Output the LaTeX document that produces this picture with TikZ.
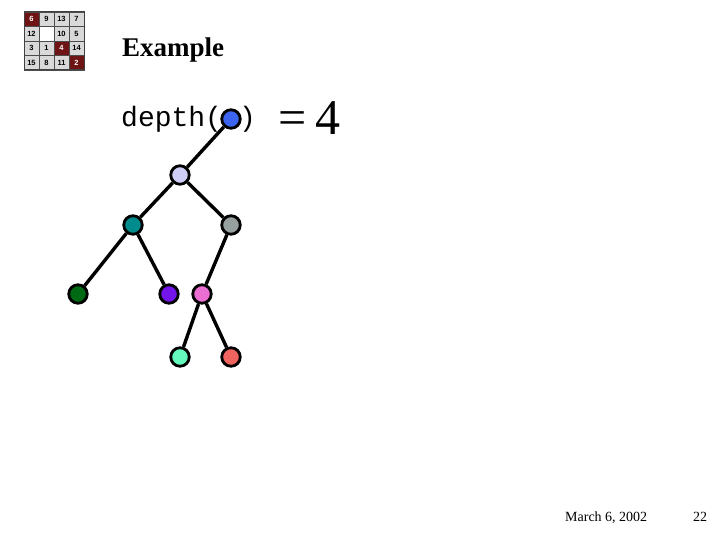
\documentclass[tikz,border=0pt]{standalone}
\usepackage{fontspec}
\setmainfont{Liberation Serif}
\newfontfamily\cour{Liberation Mono}
\newfontfamily\arl{Liberation Sans}
\definecolor{cblue}{RGB}{60,100,240}
\definecolor{clav}{RGB}{205,205,245}
\definecolor{cteal}{RGB}{0,140,140}
\definecolor{cgray}{RGB}{150,160,158}
\definecolor{cgreen}{RGB}{0,105,20}
\definecolor{cpurp}{RGB}{115,20,235}
\definecolor{cpink}{RGB}{235,110,210}
\definecolor{cmint}{RGB}{100,250,190}
\definecolor{csalm}{RGB}{240,100,95}
\definecolor{cdred}{RGB}{110,20,20}
\begin{document}
\begin{tikzpicture}[x=1pt,y=-1pt,
  tn/.style={circle,draw=black,line width=2.8pt,minimum size=18.5pt,inner sep=0pt},
  ed/.style={line width=3.4pt},
  cellg/.style={fill=gray!30,draw=gray!60!black,line width=0.6pt},
  cellr/.style={fill=cdred,draw=gray!60!black,line width=0.6pt},
  cellw/.style={fill=white,draw=gray!60!black,line width=0.6pt},
  ctx/.style={font=\fontsize{7.5}{7.5}\arl\bfseries,inner sep=0pt}]
\useasboundingbox (0,0) rectangle (720,540);
% logo
\foreach \r/\c/\n/\s in {0/0/6/r,0/1/9/g,0/2/13/g,0/3/7/g,
  1/0/12/g,1/1/{}/w,1/2/10/g,1/3/5/g,
  2/0/3/g,2/1/1/g,2/2/4/r,2/3/14/g,
  3/0/15/g,3/1/8/g,3/2/11/g,3/3/2/r}{
  \if\s r\def\st{cellr}\def\tc{white}\else\if\s w\def\st{cellw}\def\tc{black}\else\def\st{cellg}\def\tc{black}\fi\fi
  \path[\st] ({24+15*\c},{12+14.5*\r}) rectangle ({39+15*\c},{26.5+14.5*\r});
  \node[ctx,text=\tc] (L\r\c) at ({31.5+15*\c},{19.25+14.5*\r}) {\n};
}
\draw[line width=1pt,gray!50!black] (24,12) rectangle (84,70);
% title
\node[anchor=base west,inner sep=0pt,font=\fontsize{27}{27}\selectfont\bfseries] (title) at (122,57) {Example};
\node[anchor=base west,inner sep=0pt,font=\fontsize{28}{28}\cour] (dep) at (121,127) {depth(};
\node[anchor=base west,inner sep=0pt,font=\fontsize{28}{28}\cour] (par) at (239,127) {)};
\node[anchor=base west,inner sep=0pt,font=\fontsize{50}{50}\selectfont] (eq) at (278,135) {=\kern9pt4};
% tree
\node[tn,fill=cblue] (a) at (231,119) {};
\node[tn,fill=clav] (b) at (180,175) {};
\node[tn,fill=cteal] (c) at (133,225) {};
\node[tn,fill=cgray] (d) at (231,225) {};
\node[tn,fill=cgreen] (e) at (78,294) {};
\node[tn,fill=cpurp] (f) at (169,294) {};
\node[tn,fill=cpink] (g) at (202,294) {};
\node[tn,fill=cmint] (h) at (180,357) {};
\node[tn,fill=csalm] (i) at (231,357) {};
\draw[ed] (a) -- (b);
\draw[ed] (b) -- (c);
\draw[ed] (b) -- (d);
\draw[ed] (c) -- (e);
\draw[ed] (c) -- (f);
\draw[ed] (d) -- (g);
\draw[ed] (g) -- (h);
\draw[ed] (g) -- (i);
% footer
\node[anchor=base west,inner sep=0pt,font=\fontsize{14}{14}\selectfont] (date) at (565,521) {March 6, 2002};
\node[anchor=base west,inner sep=0pt,font=\fontsize{14}{14}\selectfont] (pg) at (693,521) {22};
\end{tikzpicture}
\end{document}
